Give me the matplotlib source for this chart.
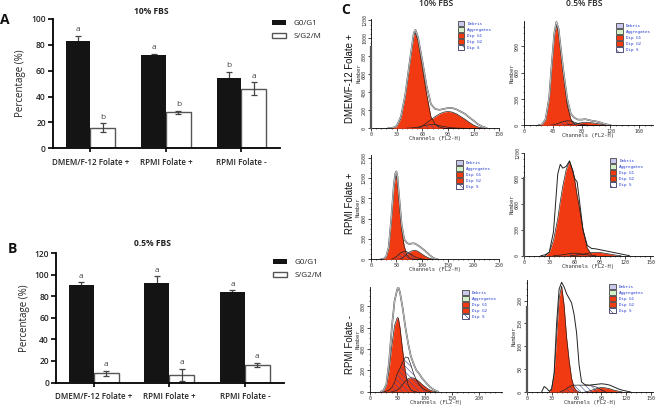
import matplotlib
matplotlib.use("Agg")
import matplotlib.pyplot as plt
from matplotlib.patches import Patch
from matplotlib.ticker import MultipleLocator

W, H = 657, 407
plt.rcParams['font.family'] = ['Open Sans', 'DejaVu Sans']
plt.rcParams['hatch.linewidth'] = 0.4

#Bar chart data
groups = ["DMEM/F-12 Folate +", "RPMI Folate +", "RPMI Folate -"]
a_g0 = [83.3, 71.8, 54]
a_g0_err = [3.5, 1, 5]
a_s = [16, 28, 46]
a_s_err = [3.3, 1.2, 5]
a_g0_letters = ["a", "a", "b"]
a_s_letters = ["b", "b", "a"]

b_g0 = [91, 92, 84]
b_g0_err = [2, 6.5, 1.5]
b_s = [8.4, 7, 16]
b_s_err = [2.3, 6, 2]
b_g0_letters = ["a", "a", "a"]
b_s_letters = ["a", "a", "a"]

#Histogram data, one channel list per curve
# DMEM 10%
d10_ch = [20,25,30,35,40,45,50,52,55,60,65,70,75,80,85,90,95,100,105,110,115,120,125,130,135]
d10_total = [0,3,25,130,370,720,1060,1095,1010,750,470,270,215,205,215,225,225,210,185,160,120,85,45,20,5]
d10_g1_ch = [20,25,30,35,40,45,50,52,55,60,65,70,75,80,85]
d10_g1 = [0,2,20,110,350,700,1030,1060,970,680,380,130,45,15,0]
d10_g2_ch = [55,60,65,70,75,80,85,90,95,100,105,110,115,120,125,130,135]
d10_g2 = [0,25,60,95,130,160,180,187,180,160,130,100,65,35,15,3,0]
d10_s_ch = [40,45,50,55,60,65,70,75,80,85,90,95,100,105,110]
d10_s = [0,3,7,12,25,35,42,40,30,20,12,6,3,1,0]
# DMEM 0.5%
d05_ch = [20,25,30,35,38,40,42,45,48,50,55,60,65,70,75,80,85,90,95,100,105,110,115,120]
d05_total = [0,10,70,320,650,850,1050,1180,1100,950,600,300,130,85,65,65,70,60,50,45,35,20,10,0]
d05_g1_ch = [20,25,30,35,38,40,42,45,48,50,55,60,65,70,75]
d05_g1 = [0,8,60,300,620,820,1020,1140,1060,910,550,230,70,15,0]
d05_g2_ch = [55,60,65,70,75,80,85,90,95,100,105,110,115,120]
d05_g2 = [0,5,10,16,22,30,35,32,28,22,15,8,3,0]
d05_s_ch = [35,40,45,50,55,60,65,70,75,80,85,90]
d05_s = [0,5,15,30,45,52,48,35,22,12,5,0]
# RPMI+ 10%
r10_ch = [20,25,30,35,40,45,48,50,52,55,60,65,70,75,80,85,90,95,100,105,110,115,120,125,130]
r10_total = [0,5,40,180,600,1100,1270,1297,1220,950,520,300,245,225,235,235,215,190,160,130,95,60,30,10,0]
r10_g1_ch = [20,25,30,35,40,45,48,50,52,55,60,65,70,75,80,85]
r10_g1 = [0,4,35,160,560,1050,1210,1230,1150,880,450,200,70,20,5,0]
r10_g2_ch = [55,60,65,70,75,80,85,90,95,100,105,110,115,120,125]
r10_g2 = [0,15,40,75,105,125,132,125,100,75,50,30,12,4,0]
r10_s_ch = [40,45,50,55,60,65,70,75,80,85,90,95,100,105]
r10_s = [0,15,40,75,105,118,112,90,65,40,25,12,5,0]
# RPMI+ 0.5%
r05_ch = [20,25,30,35,40,43,46,50,54,58,60,63,65,70,75,80,85,90,95,100,105,110,115,120,125]
r05_total = [0,10,40,280,950,1065,1020,1040,1105,980,900,860,700,300,120,85,80,70,60,50,40,30,20,10,0]
r05_g1_ch = [25,30,35,40,43,46,50,54,58,60,63,65,70,75,80]
r05_g1 = [0,40,180,430,630,810,1000,1100,990,890,700,600,300,90,15]
r05_g2_ch = [55,60,65,70,75,80,85,90,95,100,105,110,115]
r05_g2 = [0,5,10,18,27,35,40,38,30,22,13,5,0]
r05_s_ch = [35,40,45,50,55,60,65,70,75,80,85]
r05_s = [0,4,10,18,26,30,26,18,10,5,0]
# RPMI- 10%
rm10_ch = [20,25,30,35,40,45,50,52,55,60,65,70,75,80,85,90,95,100,105,110,115,120,125]
rm10_total = [0,15,70,280,600,850,960,978,930,780,600,450,330,260,200,170,130,100,70,45,25,10,0]
rm10_g1_ch = [20,25,30,35,40,45,50,52,55,60,65,70,75,80,85]
rm10_g1 = [0,10,55,200,430,620,695,690,600,380,180,60,15,3,0]
rm10_g2_ch = [40,45,50,55,60,65,70,75,80,85,90,95,100,105,110,115,120,125]
rm10_g2 = [0,5,15,35,70,100,122,131,128,115,95,70,50,30,15,6,2,0]
rm10_s_ch = [25,30,35,40,45,50,55,60,65,70,75,80,85,90,95,100,105,110]
rm10_s = [0,5,15,40,90,170,220,280,325,320,250,170,110,70,40,20,8,0]
# RPMI- 0.5%
rm05_ch = [18,21,24,27,30,33,36,39,42,45,48,51,54,57,60,63,66,70,75,80,85,90,95,100,105,110,115,120,125]
rm05_total = [0,12,8,2,5,40,150,225,240,230,215,205,195,170,130,60,22,16,15,16,17,18,17,15,11,7,4,2,0]
rm05_g1_ch = [27,30,33,36,39,42,45,48,51,54,57,60,63]
rm05_g1 = [0,8,40,120,205,232,190,120,70,30,10,3,0]
rm05_g2_ch = [70,75,80,85,90,95,100,105,110,115]
rm05_g2 = [0,2,5,8,10,9,7,4,2,0]
rm05_s_ch = [40,45,50,55,60,65,70,75,80,85,90,95]
rm05_s = [0,4,10,15,15,15,15,14,13,10,5,0]

legend_labels = ["Debris", "Aggregates", "Dip G1", "Dip G2", "Dip S"]

fig = plt.figure(figsize=(W / 100, H / 100), dpi=100)

def fx(px):
    return px / W

def fy(py):
    return 1 - py / H

def px_axes(left, right, top, bottom):
    return fig.add_axes([fx(left), fy(bottom), fx(right - left), (bottom - top) / H])

def bar_panel(left, right, top, bottom, ymax, step, g0, g0_err, s, s_err, g0_letters, s_letters, legend_xy):
    ax = px_axes(left, right, top, bottom)
    x = [0, 1, 2]
    w = 0.33
    xg = [i - w / 2 for i in x]
    xs = [i + w / 2 for i in x]
    b1 = ax.bar(xg, g0, w, color='#141414', zorder=3, label="G0/G1")
    b2 = ax.bar(xs, s, w, color='white', edgecolor='#555555', linewidth=1, zorder=1, label="S/G2/M")
    ax.errorbar(xg, g0, yerr=g0_err, fmt='none', ecolor='#444444', elinewidth=0.9, capsize=2.5, capthick=0.9, zorder=2)
    ax.errorbar(xs, s, yerr=s_err, fmt='none', ecolor='#444444', elinewidth=0.9, capsize=2.5, capthick=0.9, zorder=2)
    for i in x:
        ax.annotate(g0_letters[i], (xg[i], g0[i] + g0_err[i]), xytext=(0, 2), textcoords='offset points',
                    ha='center', va='bottom', fontsize=6, color='#444444')
        ax.annotate(s_letters[i], (xs[i], s[i] + s_err[i]), xytext=(0, 2), textcoords='offset points',
                    ha='center', va='bottom', fontsize=6, color='#444444')
    ax.set_xlim(-0.5, 2.51)
    ax.set_ylim(0, ymax)
    ax.yaxis.set_major_locator(MultipleLocator(step))
    ax.set_xticks(x)
    ax.set_xticklabels(groups, fontsize=5.8, fontweight='semibold', color='#222222')
    ax.tick_params(axis='y', labelsize=6, width=1.2, length=3.5, pad=1.5, labelcolor='#222222')
    ax.tick_params(axis='x', width=1.2, length=3, pad=4)
    for lab in ax.get_yticklabels():
        lab.set_fontweight('semibold')
    ax.spines['top'].set_visible(False)
    ax.spines['right'].set_visible(False)
    ax.spines['left'].set_linewidth(1.3)
    ax.spines['bottom'].set_linewidth(1.3)
    ax.set_ylabel("Percentage (%)", fontsize=7, color='#222222', labelpad=3.5)
    fig.legend(handles=[b1, b2], loc='upper left', bbox_to_anchor=(fx(legend_xy[0]), fy(legend_xy[1])),
               frameon=False, fontsize=5.8, handlelength=1.75, handleheight=0.5, labelspacing=0.75,
               handletextpad=0.9, borderpad=0, borderaxespad=0, labelcolor='#222222')
    return ax

bar_panel(52.7, 280, 19, 148.3, 100, 20, a_g0, a_g0_err, a_s, a_s_err, a_g0_letters, a_s_letters, (272, 20))
bar_panel(56, 283.5, 253.3, 382.5, 120, 20, b_g0, b_g0_err, b_s, b_s_err, b_g0_letters, b_s_letters, (273, 259))

def hist_panel(left, right, top, bottom, xmax, ymax, xstep, ystep, ch, total, g1_ch, g1, g2_ch, g2, s_ch, s,
               legend_xy, heavy=None, double=True):
    ax = px_axes(left, right, top, bottom)
    ax.fill_between(s_ch, s, color='white', zorder=1)
    ax.fill_between(g2_ch, g2, color='#f23a12', linewidth=0, zorder=2)
    ax.fill_between(g1_ch, g1, color='#f23a12', linewidth=0, zorder=3)
    ax.fill_between(s_ch, s, facecolor='none', edgecolor='#4a4a90', hatch='\\\\\\\\\\\\', linewidth=0, zorder=4)
    ax.plot(g1_ch, g1, color='#222222', lw=0.5, zorder=5)
    ax.plot(g2_ch, g2, color='#222222', lw=0.5, zorder=5)
    ax.plot(s_ch, s, color='#222222', lw=0.5, zorder=5)
    if double:
        ax.plot(ch, total, color='#555555', lw=1.2, zorder=6)
        ax.plot(ch, total, color='#dddddd', lw=0.5, zorder=7)
    else:
        ax.plot(ch, total, color='#222222', lw=0.7, zorder=6)
    ax.set_xlim(0, xmax)
    ax.set_ylim(0, ymax)
    ax.xaxis.set_major_locator(MultipleLocator(xstep))
    ax.xaxis.set_minor_locator(MultipleLocator(xstep / 5))
    ax.yaxis.set_major_locator(MultipleLocator(ystep))
    ax.yaxis.set_minor_locator(MultipleLocator(ystep / 4))
    ax.patch.set_alpha(0)
    ax.spines['top'].set_visible(False)
    ax.spines['right'].set_visible(False)
    ax.spines['left'].set_linewidth(0.6)
    ax.spines['bottom'].set_linewidth(0.6)
    ax.tick_params(which='major', labelsize=3.6, width=0.5, length=2, pad=0.8, labelcolor='#333333')
    ax.tick_params(which='minor', width=0.4, length=1)
    for lab in ax.get_xticklabels() + ax.get_yticklabels():
        lab.set_family('DejaVu Sans Mono')
    for lab in ax.get_yticklabels():
        lab.set_rotation(90)
        lab.set_va('center')
    ax.set_xlabel("Channels (FL2-H)", fontsize=3.9, family='DejaVu Sans Mono', color='#333333', labelpad=-0.5)
    ax.set_ylabel("Number", fontsize=3.9, family='DejaVu Sans Mono', color='#333333', labelpad=0.5)
    if heavy is not None:
        ax.plot([0, 0], [0, heavy], color='#555555', lw=1.6, clip_on=False, zorder=8)
    handles = [Patch(facecolor='#c9c9ee', edgecolor='#444444', lw=0.6),
               Patch(facecolor='#d4f0c8', edgecolor='#444444', lw=0.6),
               Patch(facecolor='#f23a12', edgecolor='#444444', lw=0.6),
               Patch(facecolor='#f23a12', edgecolor='#444444', lw=0.6),
               Patch(facecolor='white', edgecolor='#333366', lw=0.6, hatch='\\\\\\\\')]
    fig.legend(handles=handles, labels=legend_labels, loc='upper left',
               bbox_to_anchor=(fx(legend_xy[0]), fy(legend_xy[1])), frameon=False,
               labelcolor='#2a3fd0', handlelength=1.6, handleheight=1.25, labelspacing=0.32,
               handletextpad=0.7, borderpad=0, borderaxespad=0, prop={'family': 'DejaVu Sans Mono', 'size': 3.1})
    return ax

hist_panel(371, 499.3, 19, 128.3, 150, 1215, 30, 200, d10_ch, d10_total, d10_g1_ch, d10_g1, d10_g2_ch, d10_g2,
           d10_s_ch, d10_s, (457.5, 21), heavy=900)
hist_panel(524, 653, 20.7, 125.3, 179, 1194, 40, 300, d05_ch, d05_total, d05_g1_ch, d05_g1, d05_g2_ch, d05_g2,
           d05_s_ch, d05_s, (616, 23))
hist_panel(370.7, 499.3, 155, 259.3, 250, 1540, 50, 300, r10_ch, r10_total, r10_g1_ch, r10_g1, r10_g2_ch, r10_g2,
           r10_s_ch, r10_s, (456, 160))
hist_panel(524, 653, 152.7, 255.7, 153, 1200, 30, 300, r05_ch, r05_total, r05_g1_ch, r05_g1, r05_g2_ch, r05_g2,
           r05_s_ch, r05_s, (609.5, 158), heavy=900, double=False)
hist_panel(370, 502, 286.7, 391.7, 242, 984, 50, 200, rm10_ch, rm10_total, rm10_g1_ch, rm10_g1, rm10_g2_ch, rm10_g2,
           rm10_s_ch, rm10_s, (462, 290))
hist_panel(526.7, 653, 280, 392, 152, 245, 30, 50, rm05_ch, rm05_total, rm05_g1_ch, rm05_g1, rm05_g2_ch, rm05_g2,
           rm05_s_ch, rm05_s, (609, 284), heavy=185, double=False)

#Titles, panel letters and row labels
fig.text(fx(151), fy(11), "10% FBS", ha='center', va='center', fontsize=6.1, fontweight='bold', color='#222222')
fig.text(fx(153), fy(243.7), "0.5% FBS", ha='center', va='center', fontsize=6.1, fontweight='bold', color='#222222')
fig.text(fx(436), fy(4), "10% FBS", ha='center', va='center', fontsize=6.1, fontweight='semibold', color='#222222')
fig.text(fx(584), fy(4), "0.5% FBS", ha='center', va='center', fontsize=6.1, fontweight='semibold', color='#222222')
fig.text(fx(5), fy(20), "A", ha='center', va='center', fontsize=10, fontweight='bold', color='#111111')
fig.text(fx(12), fy(249), "B", ha='center', va='center', fontsize=10, fontweight='bold', color='#111111')
fig.text(fx(346), fy(10), "C", ha='center', va='center', fontsize=10, fontweight='bold', color='#111111')
for label, y in zip(groups, [78, 203, 345]):
    fig.text(fx(350), fy(y), label, rotation=90, ha='center', va='center', fontsize=6.9,
             family='Liberation Sans', color='#111111')

fig.savefig("out.png", dpi=100)
